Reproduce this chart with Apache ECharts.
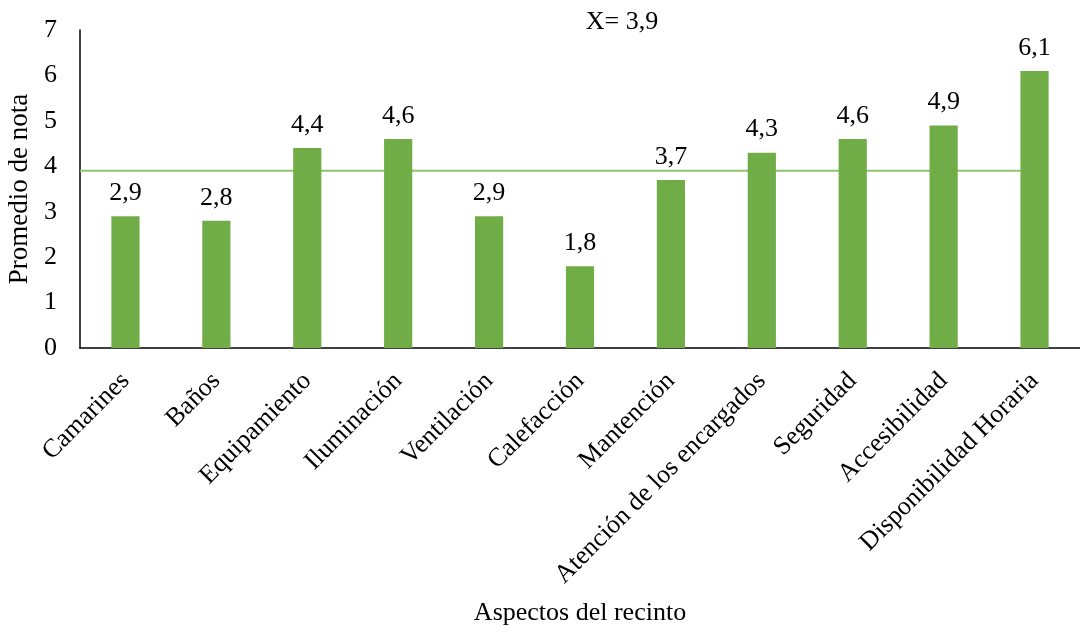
<!DOCTYPE html>
<html>
<head>
<meta charset="utf-8">
<script src="https://cdn.jsdelivr.net/npm/echarts@6/dist/echarts.min.js"></script>
<style>
  html, body { margin: 0; padding: 0; background: #ffffff; }
  #chart { width: 1080px; height: 634px; }
</style>
</head>
<body>
<div id="chart"></div>
<script>
// Aspects of the venue and their average score
const categories = [
  'Camarines', 'Baños', 'Equipamiento', 'Iluminación', 'Ventilación',
  'Calefacción', 'Mantención', 'Atención de los encargados', 'Seguridad',
  'Accesibilidad', 'Disponibilidad Horaria'
];
const scores = [2.9, 2.8, 4.4, 4.6, 2.9, 1.8, 3.7, 4.3, 4.6, 4.9, 6.1];
const meanScore = 3.9;
const yTicks = [0, 7, 1];   // min, max, step

const font = '"Liberation Serif", "Times New Roman", serif';
const fmt = v => v.toFixed(1).replace('.', ',');

const chart = echarts.init(document.getElementById('chart'), null, { renderer: 'canvas' });
chart.setOption({
  animation: false,
  textStyle: { fontFamily: font, color: '#000' },
  title: {
    text: 'X= ' + fmt(meanScore),
    left: 617, top: 4, textAlign: 'center',
    textStyle: { fontFamily: font, fontSize: 26, fontWeight: 'normal', color: '#000' }
  },
  grid: {
    left: 80, right: 0, top: 30, bottom: 286,
    containLabel: false, outerBoundsMode: 'none'
  },
  xAxis: [{
    type: 'category',
    data: categories,
    name: 'Aspectos del recinto',
    nameLocation: 'middle',
    nameGap: 252,
    nameTextStyle: { fontFamily: font, fontSize: 26, color: '#000' },
    axisLine: { lineStyle: { color: '#000', width: 1.5 } },
    axisTick: { show: false },
    axisLabel: { rotate: 45, fontFamily: font, fontSize: 26, color: '#000', margin: 29, interval: 0 }
  }, {
    // hidden numeric axis used to span the mean line across the plot
    type: 'value', min: 0, max: categories.length, show: false, position: 'top'
  }],
  yAxis: {
    type: 'value',
    min: yTicks[0], max: yTicks[1], interval: yTicks[2],
    name: 'Promedio de nota',
    nameLocation: 'middle',
    nameGap: 46,
    nameTextStyle: { fontFamily: font, fontSize: 27, color: '#000' },
    axisLine: { show: true, lineStyle: { color: '#000', width: 1.5 } },
    axisTick: { show: false },
    splitLine: { show: false },
    axisLabel: { fontFamily: font, fontSize: 26, color: '#000', margin: 23 }
  },
  series: [{
    type: 'line',
    xAxisIndex: 1,
    data: [[0, meanScore], [categories.length - 0.5, meanScore]],
    symbol: 'none',
    lineStyle: { color: '#8fc46a', width: 2 },
    z: 1,
    silent: true
  }, {
    type: 'bar',
    data: scores,
    barWidth: '31%',
    itemStyle: { color: '#70ad47' },
    z: 2,
    label: {
      show: true, position: 'top', distance: 10,
      fontFamily: font, fontSize: 26, color: '#000',
      formatter: p => fmt(p.value)
    }
  }]
});
</script>
</body>
</html>
